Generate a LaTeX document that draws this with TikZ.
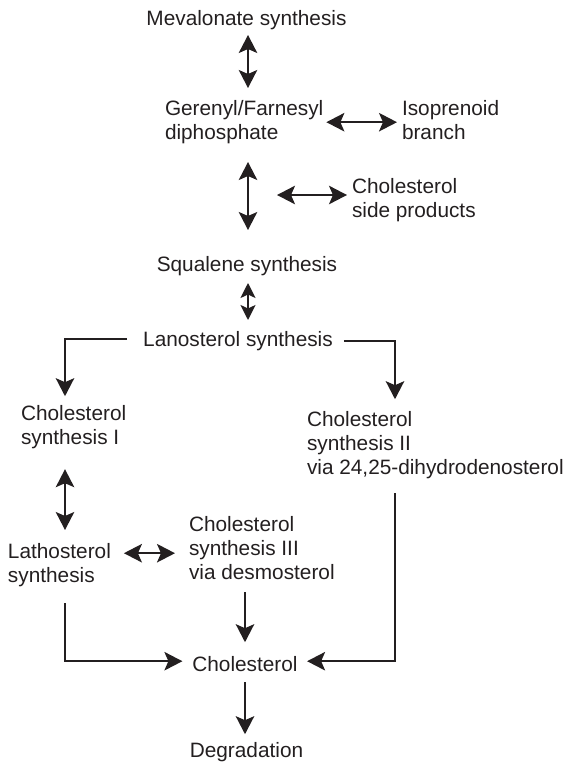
\documentclass[tikz,border=0pt]{standalone}
\usepackage{fontspec}
\setmainfont{Liberation Sans}
\usetikzlibrary{arrows.meta}
\definecolor{ink}{HTML}{231F20}
\begin{document}
\begin{tikzpicture}[x=1pt,y=-1pt,
  lbl/.style={inner sep=0pt,outer sep=0pt,text=ink,align=left,
    font=\fontsize{20.8}{24}\selectfont},
  arr/.style={draw=ink,line width=1.8pt,-{Stealth[length=18pt,width=18.5pt,inset=4pt]}},
  dbl/.style={draw=ink,line width=1.8pt,{Stealth[length=18pt,width=18.5pt,inset=4pt]}-{Stealth[length=18pt,width=18.5pt,inset=4pt]}},
  sdbl/.style={draw=ink,line width=1.8pt,{Stealth[length=15pt,width=15pt,inset=3.5pt]}-{Stealth[length=15pt,width=15pt,inset=3.5pt]}}]
\useasboundingbox (0,0) rectangle (572,771);
% spine coordinates
\coordinate (C) at (248,0);
\coordinate (D) at (245,0);
\coordinate (L) at (65,0);
\coordinate (R) at (395,0);
\coordinate (sp) at (277,195);
% nodes
\node[lbl,anchor=north] (mev) at (246.5,8.2) {\strut Mevalonate synthesis};
\node[lbl,anchor=north west] (ger) at (165,98.2) {\strut Gerenyl/Farnesyl\\\strut diphosphate};
\node[lbl,anchor=north west] (iso) at (402,98.2) {\strut Isoprenoid\\\strut branch};
\node[lbl,anchor=north west] (side) at (352,176.2) {\strut Cholesterol\\\strut side products};
\node[lbl,anchor=north] (squ) at (247,254.2) {\strut Squalene synthesis};
\node[lbl,anchor=north] (lan) at (238,329.2) {\strut Lanosterol synthesis};
\node[lbl,anchor=north west] (cs1) at (21,403.2) {\strut Cholesterol\\\strut synthesis I};
\node[lbl,anchor=north west] (cs2) at (307,409.2) {\strut Cholesterol\\\strut synthesis II\\\strut via 24,25-dihydrodenosterol};
\node[lbl,anchor=north west] (lat) at (8,541.2) {\strut Lathosterol\\\strut synthesis};
\node[lbl,anchor=north west] (cs3) at (189,514.2) {\strut Cholesterol\\\strut synthesis III\\\strut via desmosterol};
\node[lbl,anchor=north] (chol) at (245,654.2) {\strut Cholesterol};
\node[lbl,anchor=north] (deg) at (246.5,740.2) {\strut Degradation};
% connectors
\draw[dbl,shorten <=2.8pt,shorten >=10.2pt] (mev.south -| C) -- (ger.north -| C);
\draw[dbl,shorten <=3pt,shorten >=5pt] (ger.east) -- (iso.west |- ger.east);
\draw[dbl,shorten <=15.8pt,shorten >=24.2pt] (ger.south -| C) -- (squ.north -| C);
\draw[dbl,shorten >=5pt] (sp) -- (sp -| side.west);
\draw[sdbl,shorten <=4.8pt,shorten >=9.2pt] (squ.south -| C) -- (lan.north -| C);
\draw[arr,shorten <=16pt,shorten >=7pt] ([yshift=2pt]lan.west) -| (cs1.north -| L);
\draw[arr,shorten <=11pt,shorten >=10pt] (lan.east) -| (cs2.north -| R);
\draw[dbl,shorten <=18pt,shorten >=11.2pt] (cs1.south -| L) -- (lat.north -| L);
\draw[dbl,shorten <=13pt,shorten >=14pt] ([yshift=12pt]lat.east) -- ([yshift=12pt]lat.east -| cs3.west);
\draw[arr,shorten <=6pt,shorten >=12pt] (cs3.south -| D) -- (chol.north -| D);
\draw[arr,shorten <=14pt,shorten >=10pt] (lat.south -| L) |- ([yshift=5pt]chol.west);
\draw[arr,shorten <=12pt,shorten >=9.5pt] (cs2.south -| R) |- ([yshift=5pt]chol.east);
\draw[arr,shorten <=4pt,shorten >=6pt] (chol.south -| D) -- (deg.north -| D);
\end{tikzpicture}
\end{document}
